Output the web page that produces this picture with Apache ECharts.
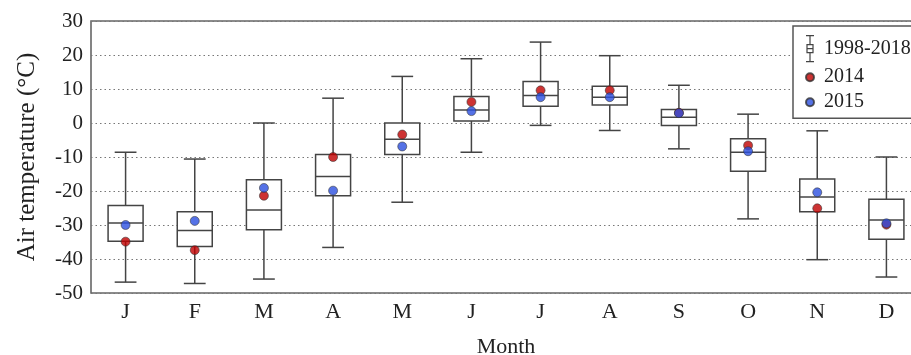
<!DOCTYPE html>
<html>
<head>
<meta charset="utf-8">
<script src="https://cdn.jsdelivr.net/npm/echarts@6/dist/echarts.min.js"></script>
<style>
html,body{margin:0;padding:0;background:#fff;}
#c{width:911px;height:355px;}
</style>
</head>
<body>
<div id="c"></div>
<script>
const months = ['J','F','M','A','M','J','J','A','S','O','N','D'];
const whiskerLow = [-46.8,-47.2,-45.9,-36.6,-23.3,-8.6,-0.7,-2.2,-7.6,-28.2,-40.2,-45.3];
const q1 = [-34.8,-36.3,-31.4,-21.4,-9.3,0.6,4.9,5.3,-0.7,-14.2,-26.1,-34.2];
const median = [-29.4,-31.6,-25.6,-15.7,-4.8,3.8,8.1,7.6,1.7,-8.6,-21.8,-28.5];
const q3 = [-24.3,-26.1,-16.7,-9.3,0.0,7.8,12.2,10.8,4.0,-4.6,-16.5,-22.4];
const whiskerHigh = [-8.6,-10.6,0.0,7.3,13.7,18.9,23.8,19.8,11.1,2.6,-2.3,-10.0];
const y2014 = [-34.9,-37.4,-21.4,-10.0,-3.4,6.2,9.6,9.6,3.0,-6.6,-25.1,-29.9];
const y2015 = [-30.0,-28.8,-19.1,-19.9,-6.9,3.5,7.6,7.6,2.9,-8.3,-20.4,-29.5];
const yTicks = {min:-50, max:30, interval:10};

const boxData = months.map((m,i)=>[i, whiskerLow[i], q1[i], median[i], q3[i], whiskerHigh[i]]);
const FONT = 'Liberation Serif';
const ink = '#444';

const chart = echarts.init(document.getElementById('c'), null, {renderer:'canvas'});
chart.setOption({
  animation:false,
  backgroundColor:'#fff',
  grid:{left:91, top:21, width:830, height:272, show:true, borderColor:'#666', borderWidth:1.6, backgroundColor:'transparent', outerBoundsMode:'none', containLabel:false},
  xAxis:{
    type:'category', data:months, boundaryGap:true,
    axisLine:{show:false}, axisTick:{show:false},
    axisLabel:{fontFamily:FONT, fontSize:22, color:'#222', margin:8, interval:0},
    name:'Month', nameLocation:'middle', nameGap:43,
    nameTextStyle:{fontFamily:FONT, fontSize:22, color:'#222'}
  },
  yAxis:{
    type:'value', min:yTicks.min, max:yTicks.max, interval:yTicks.interval,
    axisLine:{show:false}, axisTick:{show:false},
    axisLabel:{fontFamily:FONT, fontSize:21, color:'#222', margin:8},
    splitLine:{show:true, lineStyle:{type:[1.5,3], color:'#777', width:1}},
    name:'Air temperature (°C)', nameLocation:'middle', nameGap:51,
    nameTextStyle:{fontFamily:FONT, fontSize:25, color:'#222'}
  },
  legend:{
    orient:'vertical', left:793, top:26,
    padding:[9,30,6,12], itemGap:5, itemWidth:8, itemHeight:26,
    backgroundColor:'#fff', borderColor:'#555', borderWidth:1.5, borderRadius:0,
    textStyle:{fontFamily:FONT, fontSize:20, color:'#222', padding:[0,0,0,5]},
    data:[
      {name:'1998-2018', icon:'path://M0,0L8,0M4,0L4,9M1,9L7,9L7,17L1,17ZM1,13L7,13M4,17L4,26M0,26L8,26', itemStyle:{color:'#fff', borderColor:ink, borderWidth:1.2}},
      {name:'2014', icon:'circle'},
      {name:'2015', icon:'circle'}
    ]
  },
  series:[
    {
      name:'1998-2018', type:'custom', color:'#fff', data:boxData, z:2,
      renderItem:function(params, api){
        const i = api.value(0);
        const band = api.size([1,0])[0];
        const bw = band*0.506, cw = band*0.315;
        const pLow = api.coord([i, api.value(1)]);
        const pQ1 = api.coord([i, api.value(2)]);
        const pMed = api.coord([i, api.value(3)]);
        const pQ3 = api.coord([i, api.value(4)]);
        const pHigh = api.coord([i, api.value(5)]);
        const cx = pMed[0];
        const ls = {stroke:ink, lineWidth:1.5, fill:null};
        return {type:'group', children:[
          {type:'line', shape:{x1:cx, y1:pHigh[1], x2:cx, y2:pQ3[1]}, style:ls},
          {type:'line', shape:{x1:cx, y1:pQ1[1], x2:cx, y2:pLow[1]}, style:ls},
          {type:'line', shape:{x1:cx-cw/2, y1:pHigh[1], x2:cx+cw/2, y2:pHigh[1]}, style:ls},
          {type:'line', shape:{x1:cx-cw/2, y1:pLow[1], x2:cx+cw/2, y2:pLow[1]}, style:ls},
          {type:'rect', shape:{x:cx-bw/2, y:pQ3[1], width:bw, height:pQ1[1]-pQ3[1]}, style:{stroke:ink, lineWidth:1.5, fill:'#fff'}},
          {type:'line', shape:{x1:cx-bw/2, y1:pMed[1], x2:cx+bw/2, y2:pMed[1]}, style:ls}
        ]};
      }
    },
    {name:'2014', type:'scatter', data:y2014, symbol:'circle', symbolSize:9, z:3,
      itemStyle:{color:'#c00000', borderColor:'#333', borderWidth:0.7}},
    {name:'2015', type:'scatter', data:y2015, symbol:'circle', symbolSize:9, z:4,
      itemStyle:{color:'#2b4fe0', borderColor:'#333', borderWidth:0.7}}
  ]
});
</script>
</body>
</html>
